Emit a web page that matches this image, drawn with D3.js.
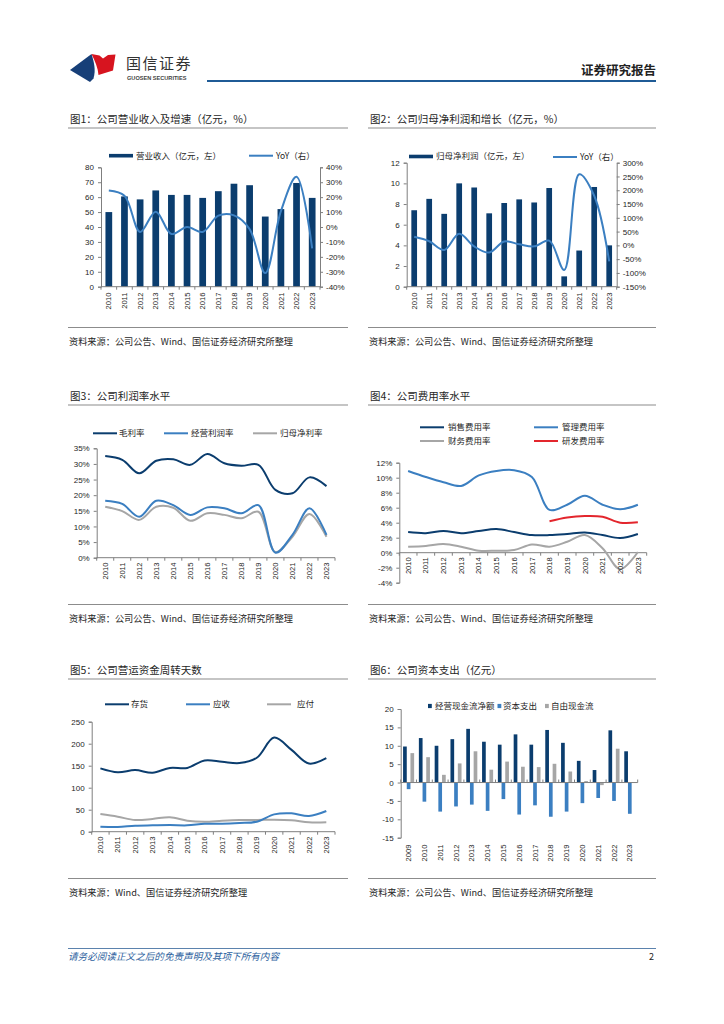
<!DOCTYPE html>
<html>
<head>
<meta charset="utf-8">
<script src="https://cdn.jsdelivr.net/npm/d3@7"></script>
<style>
  body { margin: 0; background: #fff; }
  svg { font-family: "Noto Sans CJK SC", "Noto Sans", sans-serif; }
</style>
</head>
<body>
<div id="page"></div>
<script>
// ---- data ----
var years = ["2010","2011","2012","2013","2014","2015","2016","2017","2018","2019","2020","2021","2022","2023"];
var years6 = ["2009"].concat(years);

var revenue    = [50, 60.5, 58.5, 64.5, 61.5, 61.5, 59.5, 64, 69, 68, 47, 52, 69.5, 59.5];
var revenueYoy = [24.5, 21, -3.3, 10.3, -4.7, 0, -3.3, 7.6, 7.8, -1.4, -30.9, 10.6, 33.6, -14.4];

var netProfit    = [7.4, 8.5, 7.05, 10, 9.6, 7.1, 8.1, 8.45, 8.15, 9.55, 1.0, 3.5, 9.65, 4.0];
var netProfitYoy = [31, 15, -17, 42, -4, -26, 14, 4, -3.5, 17, -89.5, 258, 180, -58];

var grossMargin = [32.5, 31.3, 27.0, 31.0, 31.5, 29.7, 33.2, 30.2, 29.4, 29.7, 21.7, 20.6, 25.7, 22.9];
var opMargin    = [18.2, 17.2, 13.1, 18.2, 16.8, 13.7, 16.1, 15.8, 14.2, 16.8, 1.6, 7.3, 15.8, 7.3];
var netMargin   = [16.3, 14.9, 12.1, 16.3, 16.0, 11.8, 14.2, 13.7, 12.6, 14.7, 1.8, 6.7, 14.0, 6.7];

var sellingRate = [2.75, 2.6, 2.9, 2.6, 2.9, 3.15, 2.75, 2.35, 2.35, 2.5, 2.7, 2.35, 1.95, 2.5];
var adminRate   = [10.9, 10.1, 9.4, 8.9, 10.3, 10.9, 11.0, 10.1, 5.7, 6.4, 7.6, 6.4, 5.8, 6.4];
var financeRate = [0.8, 0.9, 1.15, 0.8, 0.27, 0.27, 0.35, 1.1, 0.8, 1.45, 2.35, 0.6, -2.2, 0.1];
var rdYears     = ["2018","2019","2020","2021","2022","2023"];
var rdRate      = [4.2, 4.7, 4.9, 4.8, 4.0, 4.05];

var inventoryDays  = [144, 135, 140, 134, 145, 145, 162, 159, 156, 168, 214, 186, 155, 167];
var receivableDays = [11.4, 10.6, 13.6, 14.4, 15, 14.4, 18, 18, 19.7, 22.7, 39.4, 41.7, 35.6, 47];
var payableDays    = [40, 34, 26.5, 29, 33, 25, 22.7, 25, 26.5, 26.5, 27.3, 26, 21.2, 21.2];

var opCashFlow = [9.8, 12.1, 10, 11.8, 14.6, 11.1, 10.3, 13.1, 10.3, 14.3, 10.8, 5.9, 3.4, 14.2, 8.5];
var capex      = [-1.8, -5.2, -7.9, -6.5, -6.0, -7.7, -4.5, -8.7, -6.2, -9.3, -7.9, -5.6, -4.2, -5.0, -8.5];
var freeCash   = [8.0, 6.9, 2.1, 5.2, 8.5, 3.5, 5.7, 4.3, 4.2, 5.1, 3.0, 0.4, -0.7, 9.2, 0];

var navy = "#0b3d6e", blue = "#3b7fc1", gray = "#a6a6a6", red = "#e3262d";
var axisColor = "#7f7f7f", textColor = "#262626";

var svg = d3.select("#page").append("svg")
  .attr("width", 724)
  .attr("height", 1024);

// ---- page header & footer ----
svg.append("path")
  .attr("d", "M70,70 L91.5,54 C94,62 96,70 93.5,78.5 L90,82 Z")
  .attr("fill", "#173f78");
svg.append("path")
  .attr("d", "M91.5,54 L99.5,55.5 L103,58.5 L108,55 L115.5,54.5 L113,70.5 L98.5,75 C98,68 95,61 91.5,54 Z")
  .attr("fill", "#d7141f");
svg.append("text").attr("x", 126).attr("y", 69)
  .attr("font-size", 15).attr("fill", "#333").attr("letter-spacing", 1.5)
  .text("国信证券");
svg.append("text").attr("x", 127).attr("y", 79.5)
  .attr("font-size", 5.6).attr("font-weight", "bold").attr("fill", "#444")
  .attr("font-family", "Liberation Sans, Arial, sans-serif")
  .text("GUOSEN SECURITIES");
svg.append("line").attr("x1", 207).attr("x2", 656).attr("y1", 81).attr("y2", 81)
  .attr("stroke", "#1f5b96").attr("stroke-width", 2);
svg.append("text").attr("x", 656).attr("y", 74.5).attr("text-anchor", "end")
  .attr("font-size", 12.5).attr("font-weight", "bold").attr("fill", "#222")
  .text("证券研究报告");

svg.append("line").attr("x1", 68).attr("x2", 656).attr("y1", 948.5).attr("y2", 948.5)
  .attr("stroke", "#5b82ad").attr("stroke-width", 1);
svg.append("text").attr("x", 68).attr("y", 959.5).attr("font-size", 9.6)
  .attr("font-style", "italic").attr("fill", "#2d5f9e")
  .text("请务必阅读正文之后的免责声明及其项下所有内容");
svg.append("text").attr("x", 654).attr("y", 960).attr("text-anchor", "end")
  .attr("font-size", 9).attr("fill", "#222").text("2");

// ---- helpers ----
function panelFrame(x0, x1, titleY, title, source) {
  svg.append("text").attr("x", x0 + 2).attr("y", titleY + 4)
    .attr("font-size", 10.5).attr("fill", textColor).text(title);
  svg.append("line").attr("x1", x0).attr("x2", x1)
    .attr("y1", titleY + 9.5).attr("y2", titleY + 9.5)
    .attr("stroke", "#8c8c8c").attr("stroke-width", 1.2);
  svg.append("line").attr("x1", x0).attr("x2", x1)
    .attr("y1", titleY + 209).attr("y2", titleY + 209)
    .attr("stroke", "#8c8c8c").attr("stroke-width", 1.2);
  svg.append("text").attr("x", x0 + 1).attr("y", titleY + 226.5)
    .attr("font-size", 9.2).attr("fill", textColor).text(source);
}

function styleAxis(g) {
  g.select(".domain").attr("stroke", axisColor);
  g.selectAll(".tick line").attr("stroke", axisColor);
  g.selectAll(".tick text").attr("fill", textColor).attr("font-size", 8)
    .attr("font-family", "Liberation Sans, Arial, sans-serif");
}

function leftAxis(scale, x, ticks, fmt) {
  var g = svg.append("g").attr("transform", `translate(${x},0)`)
    .call(d3.axisLeft(scale).tickValues(ticks).tickSize(3).tickPadding(4).tickFormat(fmt));
  styleAxis(g);
  return g;
}

function rightAxis(scale, x, ticks, fmt) {
  var g = svg.append("g").attr("transform", `translate(${x},0)`)
    .call(d3.axisRight(scale).tickValues(ticks).tickSize(3).tickPadding(3).tickFormat(fmt));
  styleAxis(g);
  return g;
}

// category axis: line + boundary ticks
function categoryLine(xs, y, n) {
  var r = xs.range(), step = (r[1] - r[0]) / n;
  svg.append("line").attr("x1", r[0]).attr("x2", r[1]).attr("y1", y).attr("y2", y)
    .attr("stroke", axisColor);
  svg.append("g").selectAll("line").data(d3.range(n + 1)).enter().append("line")
    .attr("x1", i => r[0] + i * step).attr("x2", i => r[0] + i * step)
    .attr("y1", y).attr("y2", y + 3)
    .attr("stroke", axisColor);
}

function yearLabels(xpos, labels, y, size) {
  svg.append("g").selectAll("text").data(labels).enter().append("text")
    .attr("transform", d => `translate(${xpos(d)},${y}) rotate(-90)`)
    .attr("text-anchor", "end").attr("dy", "0.35em")
    .attr("font-size", size || 7.6).attr("fill", textColor)
    .attr("font-family", "Liberation Sans, Arial, sans-serif")
    .text(d => d);
}

function legendLine(x, y, color, label, textX) {
  svg.append("line").attr("x1", x).attr("x2", x + 24).attr("y1", y).attr("y2", y)
    .attr("stroke", color).attr("stroke-width", 2);
  svg.append("text").attr("x", textX || x + 27).attr("y", y).attr("dy", "0.35em")
    .attr("font-size", 8.5).attr("fill", textColor).text(label);
}

function legendBox(x, y, w, h, color, label, textX) {
  svg.append("rect").attr("x", x).attr("y", y - h / 2).attr("width", w).attr("height", h)
    .attr("fill", color);
  svg.append("text").attr("x", textX).attr("y", y).attr("dy", "0.35em")
    .attr("font-size", 8.5).attr("fill", textColor).text(label);
}

function smoothLine(xs, ys, cats, vals, color) {
  var line = d3.line()
    .x((d, i) => xs(cats[i]))
    .y(d => ys(d))
    .curve(d3.curveCatmullRom.alpha(0.5));
  svg.append("path").datum(vals)
    .attr("d", line)
    .attr("fill", "none")
    .attr("stroke", color)
    .attr("stroke-width", 2);
}

var pct = d => d + "%";

// ---- 图1 ----
panelFrame(68, 348, 118.5, "图1：公司营业收入及增速（亿元，%）", "资料来源：公司公告、Wind、国信证券经济研究所整理");
(function() {
  var x = d3.scaleBand().domain(years).range([101, 320]).paddingInner(0.57).paddingOuter(0.285);
  var xp = d3.scalePoint().domain(years).range([101, 320]).padding(0.5);
  var y = d3.scaleLinear().domain([0, 80]).range([286.7, 167.3]);
  var y2 = d3.scaleLinear().domain([-40, 40]).range([286.7, 167.3]);

  svg.append("g").selectAll("rect").data(revenue).enter().append("rect")
    .attr("x", (d, i) => x(years[i]))
    .attr("y", d => y(d))
    .attr("width", x.bandwidth())
    .attr("height", d => y(0) - y(d))
    .attr("fill", navy);

  leftAxis(y, 101, d3.range(0, 81, 10), d => d);
  rightAxis(y2, 320, d3.range(-40, 41, 10), pct);
  categoryLine(xp, 286.7, years.length);
  smoothLine(xp, y2, years, revenueYoy, blue);
  yearLabels(xp, years, 292.5);

  legendBox(109, 155.7, 24, 3.6, navy, "营业收入（亿元，左）", 136);
  legendLine(249, 155.7, blue, "YoY（右）", 276);
})();

// ---- 图2 ----
panelFrame(368, 656, 118.5, "图2：公司归母净利润和增长（亿元，%）", "资料来源：公司公告、Wind、国信证券经济研究所整理");
(function() {
  var x = d3.scaleBand().domain(years).range([406.7, 616.7]).paddingInner(0.62).paddingOuter(0.31);
  var xp = d3.scalePoint().domain(years).range([406.7, 616.7]).padding(0.5);
  var y = d3.scaleLinear().domain([0, 12]).range([286.7, 162.7]);
  var y2 = d3.scaleLinear().domain([-150, 300]).range([286.7, 162.7]);

  svg.append("g").selectAll("rect").data(netProfit).enter().append("rect")
    .attr("x", (d, i) => x(years[i]))
    .attr("y", d => y(d))
    .attr("width", x.bandwidth())
    .attr("height", d => y(0) - y(d))
    .attr("fill", navy);

  leftAxis(y, 406.7, d3.range(0, 13, 2), d => d);
  rightAxis(y2, 616.7, d3.range(-150, 301, 50), pct);
  categoryLine(xp, 286.7, years.length);
  smoothLine(xp, y2, years, netProfitYoy, blue);
  yearLabels(xp, years, 292.5);

  legendBox(409, 156.5, 24, 3.6, navy, "归母净利润（亿元，左）", 436);
  legendLine(553, 157, blue, "YoY（右）", 580);
})();

// ---- 图3 ----
panelFrame(68, 348, 395.5, "图3：公司利润率水平", "资料来源：公司公告、Wind、国信证券经济研究所整理");
(function() {
  var xp = d3.scalePoint().domain(years).range([96.7, 335]).padding(0.5);
  var y = d3.scaleLinear().domain([0, 35]).range([557.7, 448.3]);

  leftAxis(y, 96.7, d3.range(0, 36, 5), pct);
  categoryLine(xp, 557.7, years.length);
  smoothLine(xp, y, years, netMargin, gray);
  smoothLine(xp, y, years, opMargin, blue);
  smoothLine(xp, y, years, grossMargin, navy);
  yearLabels(xp, years, 562.5);

  legendLine(93, 433.3, navy, "毛利率", 119);
  legendLine(164, 433.3, blue, "经营利润率", 191);
  legendLine(253, 433.3, gray, "归母净利率", 280);
})();

// ---- 图4 ----
panelFrame(368, 656, 395.5, "图4：公司费用率水平", "资料来源：公司公告、Wind、国信证券经济研究所整理");
(function() {
  var xp = d3.scalePoint().domain(years).range([399.3, 646.7]).padding(0.5);
  var y = d3.scaleLinear().domain([-4, 12]).range([582.7, 462.7]);

  leftAxis(y, 399.3, d3.range(-4, 13, 2), pct);
  categoryLine(xp, y(0), years.length);
  smoothLine(xp, y, years, financeRate, gray);
  smoothLine(xp, y, years, adminRate, blue);
  smoothLine(xp, y, years, sellingRate, navy);
  smoothLine(xp, y, rdYears, rdRate, red);
  yearLabels(xp, years, y(0) + 4.5);

  legendLine(420, 427.3, navy, "销售费用率", 448);
  legendLine(534, 427.3, blue, "管理费用率", 562);
  legendLine(420, 441, gray, "财务费用率", 448);
  legendLine(534, 441, red, "研发费用率", 562);
})();

// ---- 图5 ----
panelFrame(68, 348, 669.5, "图5：公司营运资金周转天数", "资料来源：Wind、国信证券经济研究所整理");
(function() {
  var xp = d3.scalePoint().domain(years).range([91.7, 335]).padding(0.5);
  var y = d3.scaleLinear().domain([0, 250]).range([831.7, 721.7]);

  leftAxis(y, 91.7, d3.range(0, 251, 50), d => d);
  categoryLine(xp, 831.7, years.length);
  smoothLine(xp, y, years, payableDays, gray);
  smoothLine(xp, y, years, receivableDays, blue);
  smoothLine(xp, y, years, inventoryDays, navy);
  yearLabels(xp, years, 836.5);

  legendLine(105, 704.3, navy, "存货", 131);
  legendLine(186, 704.3, blue, "应收", 213);
  legendLine(267, 704.3, gray, "应付", 297);
})();

// ---- 图6 ----
panelFrame(368, 656, 669.5, "图6：公司资本支出（亿元）", "资料来源：公司公告、Wind、国信证券经济研究所整理");
(function() {
  var x0 = d3.scaleBand().domain(years6).range([400.7, 637.7]).paddingInner(0.3).paddingOuter(0.15);
  var xp = d3.scalePoint().domain(years6).range([400.7, 637.7]).padding(0.5);
  var x1 = d3.scaleBand().domain([0, 1, 2]).range([0, x0.bandwidth()]);
  var y = d3.scaleLinear().domain([-15, 20]).range([837.7, 709]);

  var series = [opCashFlow, capex, freeCash];
  var colors = [navy, blue, gray];
  series.forEach(function(vals, s) {
    svg.append("g").selectAll("rect").data(vals).enter().append("rect")
      .attr("x", (d, i) => x0(years6[i]) + x1(s))
      .attr("y", d => y(Math.max(0, d)))
      .attr("width", x1.bandwidth())
      .attr("height", d => Math.abs(y(d) - y(0)))
      .attr("fill", colors[s]);
  });

  leftAxis(y, 400.7, d3.range(-15, 21, 5), d => d);
  var r = xp.range(), step = (r[1] - r[0]) / years6.length;
  svg.append("line").attr("x1", r[0]).attr("x2", r[1]).attr("y1", y(0)).attr("y2", y(0))
    .attr("stroke", axisColor);
  svg.append("g").selectAll("line").data(d3.range(years6.length + 1)).enter().append("line")
    .attr("x1", i => r[0] + i * step).attr("x2", i => r[0] + i * step)
    .attr("y1", y(0)).attr("y2", y(0) - 3)
    .attr("stroke", axisColor);
  yearLabels(xp, years6, 844.5);

  legendBox(428, 706, 3.8, 4.2, navy, "经营现金流净额", 435);
  legendBox(497.5, 706, 3.8, 4.2, blue, "资本支出", 503);
  legendBox(545, 706, 3.8, 4.2, gray, "自由现金流", 551);
})();
</script>
</body>
</html>
